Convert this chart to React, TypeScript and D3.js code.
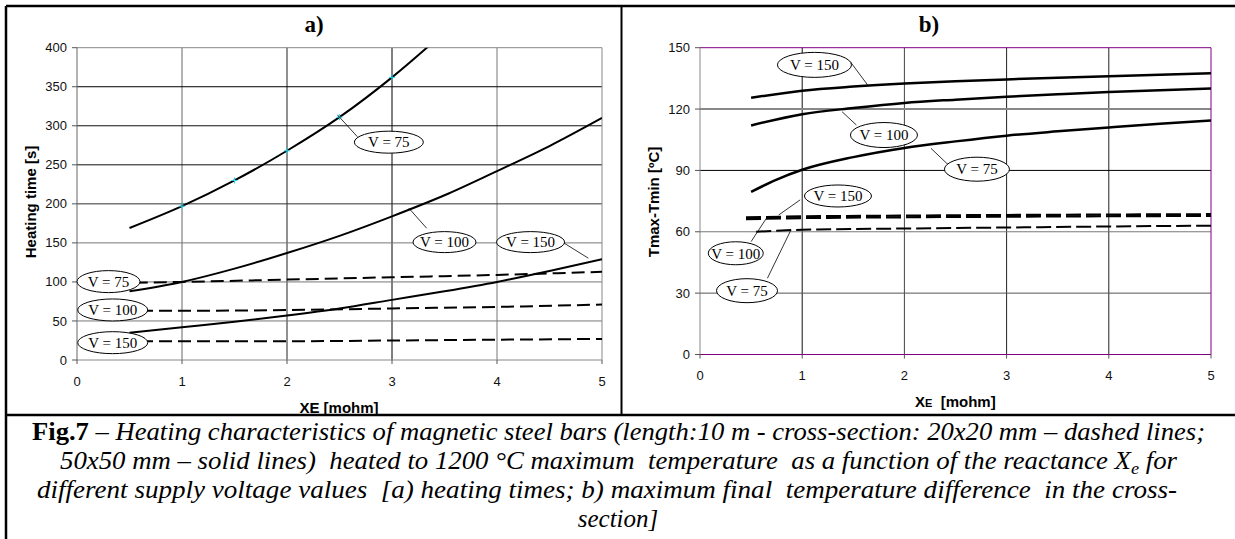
import React from 'react';
import * as d3 from 'd3';

// ---------- data ----------
const xTicks = [0, 1, 2, 3, 4, 5];
const aYTicks = [0, 50, 100, 150, 200, 250, 300, 350, 400];
const bYTicks = [0, 30, 60, 90, 120, 150];

// panel a) heating time [s]
const aSolidX = [0.5, 1, 1.5, 2, 2.5, 3, 3.5, 4, 4.5, 5];
const aSolid100 = [88, 100, 117, 137, 159, 184, 211, 242, 274, 310];
const aSolid150 = [35, 42, 49, 57, 66, 77, 88, 100, 114, 129];
const aSolid75X = [0.5, 1, 1.5, 2, 2.5, 3, 3.4];
const aSolid75 = [169, 197, 230, 268, 311, 362, 408];
const aMarkX = [1, 1.5, 2, 2.5, 3];
const aMarkY = [197, 230, 268, 311, 362];
const aDash75X = [0.55, 1, 2, 3, 4, 5];
const aDash75 = [99, 100, 103, 106, 109, 113];
const aDashX = [0.6, 1, 2, 3, 4, 5];
const aDash100 = [63, 63, 64, 66, 68, 71];
const aDash150 = [24, 24, 24, 25, 26, 27];

// panel b) Tmax - Tmin [°C]
const bSolidX = [0.5, 1, 1.5, 2, 2.5, 3, 3.5, 4, 4.5, 5];
const bSolid150 = [125.5, 129, 131, 132.5, 133.6, 134.5, 135.3, 136, 136.8, 137.5];
const bSolid100 = [112, 117.5, 120.5, 123, 124.6, 126, 127.2, 128.3, 129.2, 130];
const bSolid75X = [0.5, 0.75, 1, 1.5, 2, 2.5, 3, 3.5, 4, 4.5, 5];
const bSolid75 = [79.5, 85.5, 90.3, 96.5, 101, 104.2, 107, 109.1, 111, 112.8, 114.4];
const bDashX = [0.45, 1, 2, 3, 4, 5];
const bDash150 = [67.0, 67.5, 67.9, 68.2, 68.4, 68.6];
const bDash100 = [66.2, 66.7, 67.1, 67.4, 67.6, 67.8];
const bDash75X = [0.55, 1, 2, 3, 4, 5];
const bDash75 = [60, 61, 61.6, 62.1, 62.6, 63];

// callout labels: text, ellipse centre (data units), leader line ends (data units)
const aLabels = ['V = 75', 'V = 100', 'V = 150', 'V = 75', 'V = 100', 'V = 150'];
const aLabelCx = [2.97, 3.5, 4.32, 0.3, 0.34, 0.34];
const aLabelCy = [279, 151, 151, 100.4, 64.1, 22.2];
const aLeadX1 = [2.48, 3.16, 4.64, null, null, null];
const aLeadY1 = [314, 194.5, 149.6, null, null, null];
const aLeadX2 = [2.67, 3.33, 4.87, null, null, null];
const aLeadY2 = [286, 168.8, 130.4, null, null, null];

const bLabels = ['V = 150', 'V = 100', 'V = 75', 'V = 150', 'V = 100', 'V = 75'];
const bLabelCx = [1.12, 1.8, 2.71, 1.35, 0.35, 0.46];
const bLabelCy = [141.6, 107.3, 90.6, 77.5, 49.5, 31.2];
const bLeadX1 = [1.47, 1.39, 2.26, 0.98, 0.5, 0.66];
const bLeadY1 = [143.2, 118.7, 100.8, 75.6, 55.2, 37.3];
const bLeadX2 = [1.64, 1.53, 2.43, 0.77, 0.66, 0.89];
const bLeadY2 = [131.8, 112.2, 92.7, 68.2, 67.4, 60.9];

const captionLines = [
  'Heating characteristics of magnetic steel bars (length:10 m - cross-section: 20x20 mm \u2013 dashed lines;',
  '50x50 mm \u2013 solid lines)  heated to 1200 \u00B0C maximum  temperature  as a function of the reactance X',
  'different supply voltage values  [a) heating times; b) maximum final  temperature difference  in the cross-',
  'section]',
];

// ---------- styles ----------
const SANS = 'Arial, "Liberation Sans", sans-serif';
const SERIF = '"Times New Roman", "Liberation Serif", serif';
const PURPLE = '#800080';

const zip = (xs: number[], ys: number[]) => xs.map((x, i) => [x, ys[i]] as [number, number]);

type Series = { pts: [number, number][]; dash?: string; width: number };

function Panel(props: {
  id: string;
  x0: number; x1: number; y0: number; y1: number;
  yMax: number; yTicks: number[];
  series: Series[];
  labels: string[]; lcx: number[]; lcy: number[];
  lx1: (number | null)[]; ly1: (number | null)[]; lx2: (number | null)[]; ly2: (number | null)[];
  lw: number[]; lh: number[];
  vGridColors: string[]; hGridColors: string[]; hGridWidths: number[];
  borderColor: string; bottomColor: string; leftColor: string;
  tickLabelDy: number;
  marks?: [number, number][];
}) {
  const x = d3.scaleLinear().domain([0, 5]).range([props.x0, props.x1]);
  const y = d3.scaleLinear().domain([0, props.yMax]).range([props.y0, props.y1]);
  const line = d3.line<[number, number]>().x(d => x(d[0])).y(d => y(d[1])).curve(d3.curveMonotoneX);
  return (
    <g>
      <defs>
        <clipPath id={props.id}>
          <rect x={props.x0} y={props.y1} width={props.x1 - props.x0} height={props.y0 - props.y1} />
        </clipPath>
      </defs>
      {xTicks.slice(1, -1).map((t, i) => (
        <line key={'v' + t} x1={x(t)} x2={x(t)} y1={y(0)} y2={y(props.yMax)} stroke={props.vGridColors[i]} strokeWidth={1} />
      ))}
      {props.yTicks.slice(1, -1).map((t, i) => (
        <line key={'h' + t} x1={x(0)} x2={x(5)} y1={y(t)} y2={y(t)} stroke={props.hGridColors[i]} strokeWidth={props.hGridWidths[i]} />
      ))}
      <line x1={x(0)} x2={x(5)} y1={y(props.yMax)} y2={y(props.yMax)} stroke={props.borderColor} strokeWidth={1} />
      <line x1={x(5)} x2={x(5)} y1={y(0)} y2={y(props.yMax)} stroke={props.borderColor} strokeWidth={1} />
      <line x1={x(0)} x2={x(5)} y1={y(0)} y2={y(0)} stroke={props.bottomColor} strokeWidth={1} />
      <line x1={x(0)} x2={x(0)} y1={y(0)} y2={y(props.yMax)} stroke={props.leftColor} strokeWidth={1} />
      {props.yTicks.map(t => (
        <g key={'yt' + t}>
          <line x1={x(0) - 5} x2={x(0)} y1={y(t)} y2={y(t)} stroke="#555" strokeWidth={1} />
          <text x={x(0) - 10} y={y(t)} dy="0.35em" textAnchor="end" fontFamily={SANS} fontSize={13} fill="#111">{t}</text>
        </g>
      ))}
      {xTicks.map(t => (
        <g key={'xt' + t}>
          <line x1={x(t)} x2={x(t)} y1={y(0)} y2={y(0) + 4} stroke="#555" strokeWidth={1} />
          <text x={x(t)} y={y(0) + props.tickLabelDy} textAnchor="middle" fontFamily={SANS} fontSize={13} fill="#111">{t}</text>
        </g>
      ))}
      <g clipPath={`url(#${props.id})`}>
        {props.series.map((s, i) => (
          <path key={'s' + i} d={line(s.pts) || ''} fill="none" stroke="#000" strokeWidth={s.width} strokeDasharray={s.dash} />
        ))}
      </g>
      {(props.marks || []).map((m, i) => (
        <g key={'m' + i} stroke="#22d8f0" strokeWidth={1}>
          <line x1={x(m[0]) - 3} x2={x(m[0]) + 3} y1={y(m[1])} y2={y(m[1])} />
          <line x1={x(m[0])} x2={x(m[0])} y1={y(m[1]) - 3} y2={y(m[1]) + 3} />
        </g>
      ))}
      {props.labels.map((lab, i) => (
        <g key={'l' + i}>
          {props.lx1[i] != null && (
            <line x1={x(props.lx1[i] as number)} y1={y(props.ly1[i] as number)} x2={x(props.lx2[i] as number)} y2={y(props.ly2[i] as number)} stroke="#000" strokeWidth={0.8} />
          )}
          <ellipse cx={x(props.lcx[i])} cy={y(props.lcy[i])} rx={props.lw[i] / 2} ry={props.lh[i] / 2} fill="#fff" stroke="#000" strokeWidth={1} />
          <text x={x(props.lcx[i])} y={y(props.lcy[i])} dy="0.35em" textAnchor="middle" fontFamily={SERIF} fontSize={15} fill="#000">{lab}</text>
        </g>
      ))}
    </g>
  );
}

export default function App() {
  const aSeries: Series[] = [
    { pts: zip(aSolid75X, aSolid75), width: 2 },
    { pts: zip(aSolidX, aSolid100), width: 2 },
    { pts: zip(aSolidX, aSolid150), width: 2 },
    { pts: zip(aDash75X, aDash75), width: 2, dash: '13,6' },
    { pts: zip(aDashX, aDash100), width: 2, dash: '13,6' },
    { pts: zip(aDashX, aDash150), width: 2, dash: '13,6' },
  ];
  const bSeries: Series[] = [
    { pts: zip(bSolidX, bSolid150), width: 2.5 },
    { pts: zip(bSolidX, bSolid100), width: 2.5 },
    { pts: zip(bSolid75X, bSolid75), width: 2.5 },
    { pts: zip(bDashX, bDash150), width: 2.2, dash: '15,5' },
    { pts: zip(bDashX, bDash100), width: 2.2, dash: '15,5' },
    { pts: zip(bDash75X, bDash75), width: 2, dash: '15,5' },
  ];
  const pre = { whiteSpace: 'pre' as const };
  return (
    <svg width={1235} height={539} style={{ position: 'absolute', left: 0, top: 0, background: '#fff' }}>
      <rect x={0} y={0} width={1235} height={539} fill="#fff" />
      <line x1={6} x2={1235} y1={6} y2={6} stroke="#000" strokeWidth={2.5} />
      <line x1={6} x2={6} y1={6} y2={539} stroke="#000" strokeWidth={2.5} />
      <line x1={6} x2={1235} y1={415} y2={415} stroke="#000" strokeWidth={2.5} />
      <line x1={621.5} x2={621.5} y1={6} y2={415} stroke="#000" strokeWidth={2} />

      <text x={314} y={32} textAnchor="middle" fontFamily={SERIF} fontWeight="bold" fontSize={23}>a)</text>
      <text x={929} y={32} textAnchor="middle" fontFamily={SERIF} fontWeight="bold" fontSize={23}>b)</text>

      <Panel id="clipA" x0={77} x1={602} y0={360} y1={47.7} yMax={400} yTicks={aYTicks}
        series={aSeries} marks={zip(aMarkX, aMarkY)}
        labels={aLabels} lcx={aLabelCx} lcy={aLabelCy} lx1={aLeadX1} ly1={aLeadY1} lx2={aLeadX2} ly2={aLeadY2}
        lw={[69, 63, 68, 63, 70, 70]} lh={[22, 21, 21, 22, 22, 22]}
        vGridColors={['#666', '#222', '#000', '#777']}
        hGridColors={['#777', '#777', '#777', '#333', '#111', '#111', '#000']}
        hGridWidths={[1, 1, 1, 1, 1, 1, 1]}
        borderColor="#888" bottomColor="#888" leftColor="#666" tickLabelDy={26} />

      <Panel id="clipB" x0={700} x1={1211} y0={354.5} y1={47.7} yMax={150} yTicks={bYTicks}
        series={bSeries}
        labels={bLabels} lcx={bLabelCx} lcy={bLabelCy} lx1={bLeadX1} ly1={bLeadY1} lx2={bLeadX2} ly2={bLeadY2}
        lw={[74, 67, 65, 67, 55, 61]} lh={[25, 25, 24, 22, 23, 24]}
        vGridColors={['#111', '#444', '#222', '#222']}
        hGridColors={['#555', '#777', '#000', '#888']}
        hGridWidths={[1, 1, 1, 2]}
        borderColor={PURPLE} bottomColor={PURPLE} leftColor="#888" tickLabelDy={25} />

      <text transform="translate(36,202) rotate(-90)" textAnchor="middle" fontFamily={SANS} fontWeight="bold" fontSize={15}>Heating time [s]</text>
      <text transform="translate(659,202) rotate(-90)" textAnchor="middle" fontFamily={SANS} fontWeight="bold" fontSize={15}>Tmax-Tmin [ºC]</text>
      <text x={339} y={413} textAnchor="middle" fontFamily={SANS} fontWeight="bold" fontSize={15}>XE [mohm]</text>
      <text x={915} y={407} fontFamily={SANS} fontWeight="bold" fontSize={15} style={pre}>X<tspan fontSize={11}>E</tspan>{'  [mohm]'}</text>

      <text x={32} y={440} fontFamily={SERIF} fontSize={25} textLength={1173} lengthAdjust="spacingAndGlyphs" style={pre}>
        <tspan fontWeight="bold">Fig.7</tspan><tspan fontStyle="italic">{' \u2013 ' + captionLines[0]}</tspan>
      </text>
      <text x={60} y={469} fontFamily={SERIF} fontSize={25} fontStyle="italic" textLength={1117} lengthAdjust="spacingAndGlyphs" style={pre}>
        {captionLines[1]}<tspan fontSize={17} dy={5}>e</tspan><tspan dy={-5}>{' for'}</tspan>
      </text>
      <text x={37} y={498} fontFamily={SERIF} fontSize={25} fontStyle="italic" textLength={1140} lengthAdjust="spacingAndGlyphs" style={pre}>
        {captionLines[2]}
      </text>
      <text x={618} y={527} textAnchor="middle" fontFamily={SERIF} fontSize={25} fontStyle="italic">
        {captionLines[3]}
      </text>
    </svg>
  );
}
